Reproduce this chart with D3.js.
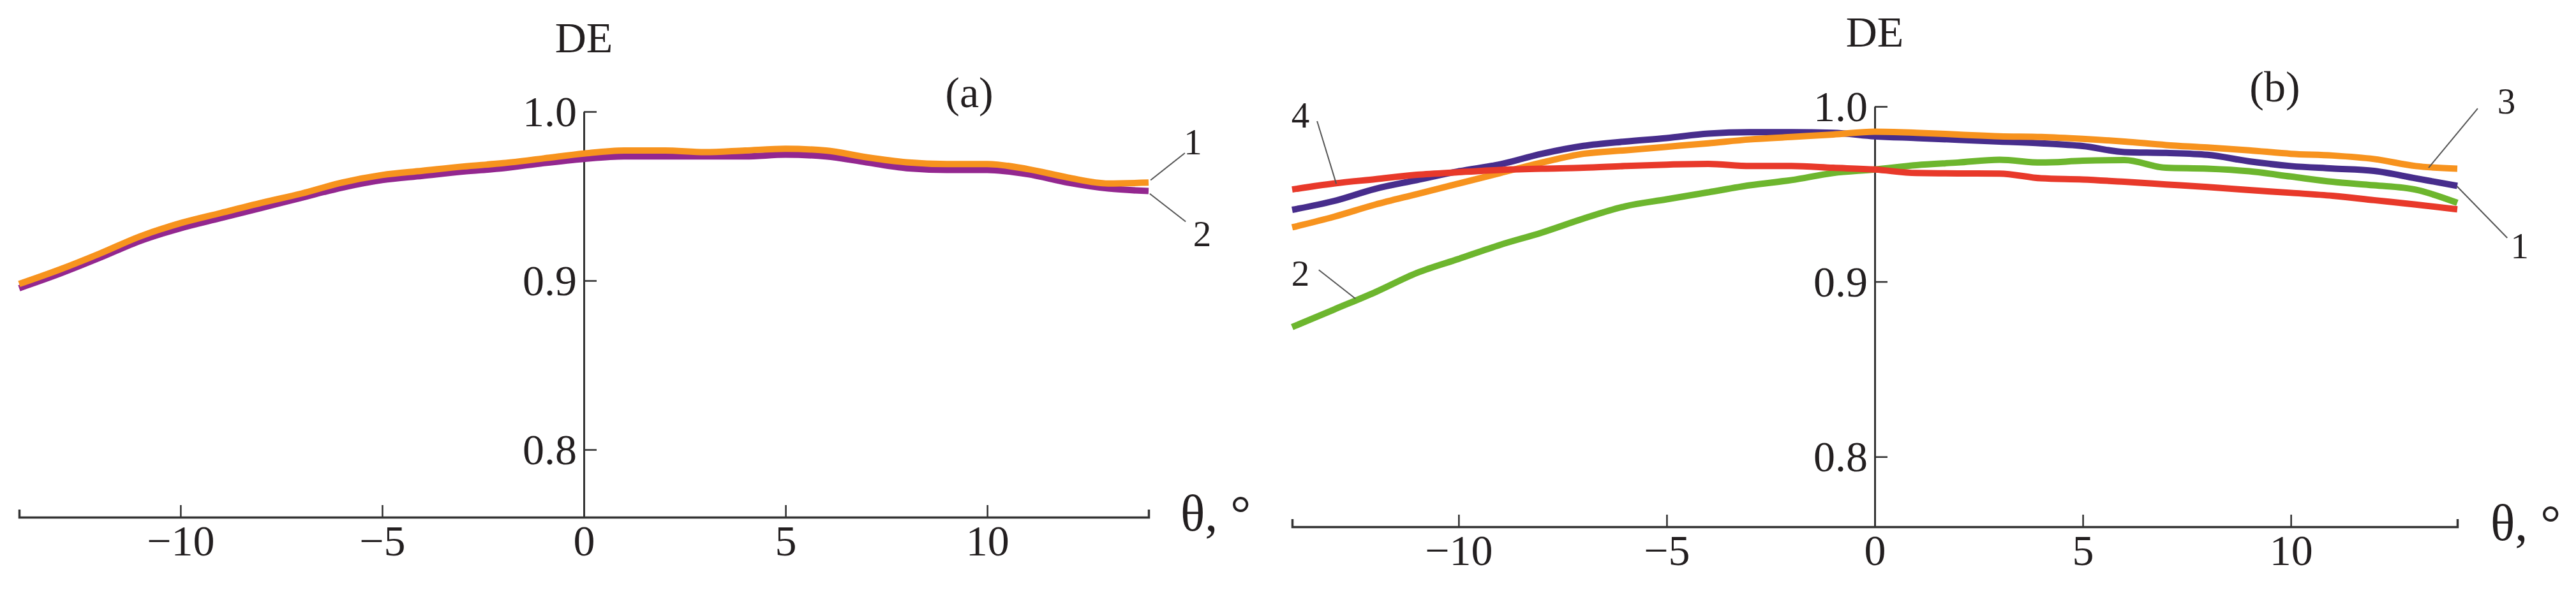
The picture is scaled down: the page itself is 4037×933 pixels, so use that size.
<!DOCTYPE html>
<html>
<head>
<meta charset="utf-8">
<script src="https://cdn.jsdelivr.net/npm/d3@7"></script>
<style>
  html, body { margin: 0; padding: 0; background: #ffffff; }
  svg { display: block; }
  svg text { font-family: "Liberation Serif", "DejaVu Serif", serif; }
</style>
</head>
<body>
<script>
// ---------------- DATA ----------------
const theta = [-14,-13,-12,-11,-10,-9,-8,-7,-6,-5,-4,-3,-2,-1,0,1,2,3,4,5,6,7,8,9,10,11,12,13,14];

// Panel (a)
const a_curve1 = [0.898,0.9065,0.916,0.9262,0.934,0.940,0.946,0.9515,0.958,0.9625,0.965,0.9675,0.9695,0.9723,0.9752,
                  0.977,0.977,0.976,0.977,0.978,0.977,0.973,0.970,0.969,0.969,0.966,0.961,0.9575,0.958];
const a_curve2 = [0.8955,0.904,0.9135,0.9235,0.931,0.937,0.943,0.949,0.955,0.9595,0.962,0.9645,0.9665,0.9695,0.972,
                  0.9735,0.9735,0.9735,0.9735,0.9745,0.9735,0.970,0.9665,0.9655,0.9655,0.963,0.958,0.9545,0.953];

// Panel (b)
const b_curve1 = [0.941,0.946,0.953,0.958,0.963,0.967,0.973,0.9775,0.980,0.982,0.9845,0.9853,0.9853,0.985,0.983,
                  0.982,0.981,0.980,0.979,0.9774,0.974,0.9735,0.9724,0.9687,0.966,0.9646,0.9632,0.959,0.9547];
const b_curve2 = [0.874,0.884,0.894,0.905,0.913,0.921,0.928,0.936,0.943,0.947,0.951,0.955,0.958,0.962,0.964,
                  0.9665,0.968,0.9696,0.968,0.969,0.9694,0.965,0.9645,0.963,0.960,0.957,0.955,0.9525,0.945];
const b_curve3 = [0.931,0.937,0.944,0.950,0.956,0.962,0.968,0.973,0.975,0.977,0.979,0.9812,0.9826,0.984,0.9856,
                  0.985,0.984,0.983,0.9826,0.9815,0.980,0.978,0.9766,0.975,0.973,0.972,0.970,0.966,0.9645];
const b_curve4 = [0.9526,0.956,0.9585,0.961,0.9625,0.9638,0.9645,0.965,0.966,0.9668,0.9672,0.966,0.966,0.965,0.964,
                  0.962,0.9618,0.9617,0.959,0.9583,0.957,0.9555,0.954,0.9523,0.9507,0.949,0.9465,0.944,0.9413];

const xTicks = [-10, -5, 0, 5, 10];
const yTicks = [0.8, 0.9, 1.0];
const xDomain = [-14, 14];
const yDomain = [0.76, 1.0];

// curve-number annotations: label anchor and leader line (data units)
const a_notes = [
  {text: "1", lx: 15.1, ly: 0.9748, x1: 14.05, y1: 0.9594, x2: 14.9, y2: 0.9755},
  {text: "2", lx: 15.33, ly: 0.9202, x1: 14.03, y1: 0.9514, x2: 14.92, y2: 0.9349}
];
const b_notes = [
  {text: "4", lx: -13.8, ly: 0.988, x1: -12.94, y1: 0.9559, x2: -13.4, y2: 0.9916},
  {text: "2", lx: -13.8, ly: 0.8976, x1: -12.48, y1: 0.8903, x2: -13.36, y2: 0.9067},
  {text: "3", lx: 15.18, ly: 0.996, x1: 13.31, y1: 0.965, x2: 14.49, y2: 0.9989},
  {text: "1", lx: 15.5, ly: 0.9133, x1: 13.99, y1: 0.9545, x2: 15.2, y2: 0.925}
];

const COL_ORANGE = "#F7931E";
const COL_MAGENTA = "#93278F";
const COL_INDIGO = "#472D8C";
const COL_GREEN = "#6DB62E";
const COL_RED = "#E8392A";

// ---------------- DRAW ----------------
const W = 4037, H = 933;
const FONT = "Liberation Serif, DejaVu Serif, serif";
const TXT = "#231f20";

const svg = d3.select("body").append("svg")
  .attr("width", W).attr("height", H)
  .attr("viewBox", `0 0 ${W} ${H}`);
svg.append("rect").attr("width", W).attr("height", H).attr("fill", "#fff");

function panel(cfg) {
  const x = d3.scaleLinear().domain(xDomain).range(cfg.xr);
  const y = d3.scaleLinear().domain(yDomain).range(cfg.yr);
  const g = svg.append("g");
  const x0 = x(0);
  const yAxisY = y(yDomain[0]);

  // x axis
  const gx = g.append("g")
    .attr("transform", `translate(0,${yAxisY})`)
    .call(d3.axisBottom(x).tickValues(xTicks).tickSizeInner(-19).tickSizeOuter(-12).tickPadding(0)
      .tickFormat(d3.format("d")));
  gx.attr("font-family", null).attr("font-size", null);
  gx.select(".domain").attr("stroke", "#333").attr("stroke-width", 3.5);
  gx.selectAll(".tick line").attr("stroke", "#333").attr("stroke-width", 2.6);
  gx.selectAll(".tick text")
    .attr("y", cfg.xLabelBase - yAxisY).attr("dy", null)
    .style("font-family", FONT).style("font-size", "68px").attr("fill", TXT)
    .attr("text-anchor", "middle");

  // y axis
  const gy = g.append("g")
    .attr("transform", `translate(${x0},0)`)
    .call(d3.axisLeft(y).tickValues(yTicks).tickSizeInner(-20).tickSizeOuter(0).tickPadding(11)
      .tickFormat(d3.format(".1f")));
  gy.attr("font-family", null).attr("font-size", null);
  gy.select(".domain").attr("stroke", "#333").attr("stroke-width", 3);
  gy.selectAll(".tick line").attr("stroke", "#333").attr("stroke-width", 2.6);
  gy.selectAll(".tick text")
    .attr("dy", "0.33em")
    .style("font-family", FONT).style("font-size", "68px").attr("fill", TXT);

  // axis titles
  g.append("text").attr("x", x0).attr("y", cfg.deBase)
    .attr("text-anchor", "middle").style("font-family", FONT).style("font-size", "68px").attr("fill", TXT)
    .text("DE");
  g.append("text").attr("x", cfg.thetaX).attr("y", cfg.thetaBase)
    .style("font-family", FONT).style("font-size", "80px").attr("fill", TXT)
    .text("θ, °");
  g.append("text").attr("x", cfg.tagX).attr("y", cfg.tagBase)
    .attr("text-anchor", "middle").style("font-family", FONT).style("font-size", "68px").attr("fill", TXT)
    .text(cfg.tag);

  // curves
  const line = d3.line().x((d, i) => x(theta[i])).y(d => y(d)).curve(d3.curveMonotoneX);
  cfg.series.forEach(s => {
    g.append("path").datum(s.values)
      .attr("d", line)
      .attr("fill", "none")
      .attr("stroke", s.color)
      .attr("stroke-width", cfg.lw)
      .attr("stroke-linejoin", "round");
  });

  // annotations
  cfg.notes.forEach(n => {
    g.append("line")
      .attr("x1", x(n.x1)).attr("y1", y(n.y1))
      .attr("x2", x(n.x2)).attr("y2", y(n.y2))
      .attr("stroke", "#555").attr("stroke-width", 2);
    g.append("text").attr("x", x(n.lx)).attr("y", y(n.ly))
      .attr("text-anchor", "middle").style("font-family", FONT).style("font-size", "57px").attr("fill", TXT)
      .text(n.text);
  });
}

panel({
  xr: [30, 1800], yr: [811, 175],
  xLabelBase: 871, deBase: 82,
  thetaX: 1850, thetaBase: 832,
  tag: "(a)", tagX: 1519, tagBase: 168,
  lw: 10,
  series: [
    {values: a_curve2, color: COL_MAGENTA},
    {values: a_curve1, color: COL_ORANGE}
  ],
  notes: a_notes
});

panel({
  xr: [2025, 3851], yr: [826, 167],
  xLabelBase: 886, deBase: 73,
  thetaX: 3903, thetaBase: 847,
  tag: "(b)", tagX: 3565, tagBase: 159,
  lw: 10,
  series: [
    {values: b_curve1, color: COL_INDIGO},
    {values: b_curve3, color: COL_ORANGE},
    {values: b_curve2, color: COL_GREEN},
    {values: b_curve4, color: COL_RED}
  ],
  notes: b_notes
});
</script>
</body>
</html>
